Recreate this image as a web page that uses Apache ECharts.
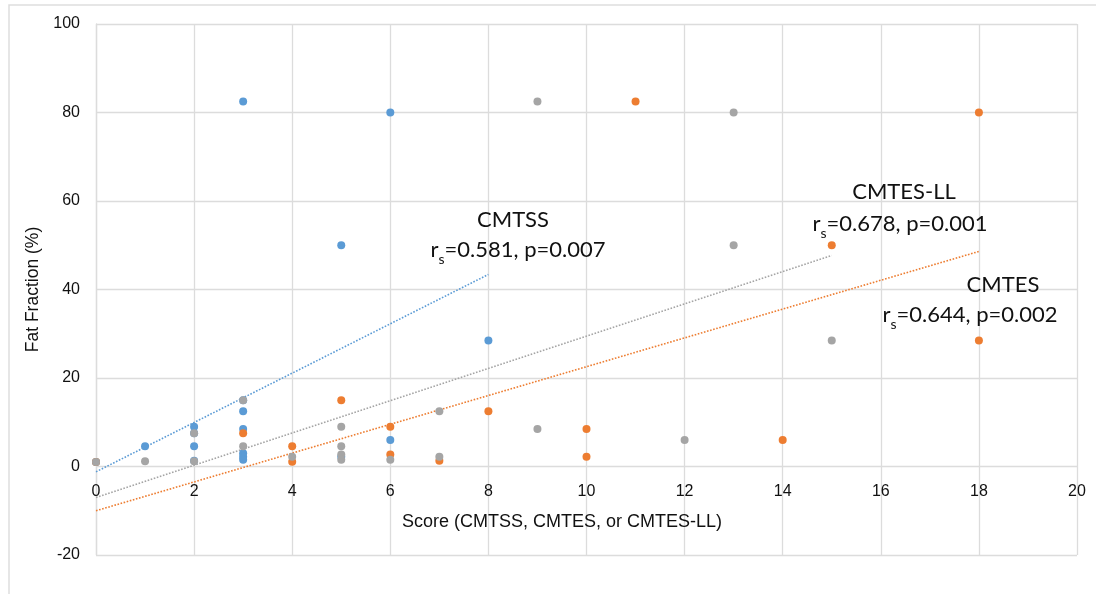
<!DOCTYPE html>
<html>
<head>
<meta charset="utf-8">
<script src="https://cdn.jsdelivr.net/npm/echarts@6/dist/echarts.min.js"></script>
<style>html,body{margin:0;padding:0;background:#fff;}#c{width:1096px;height:594px;}</style>
</head>
<body>
<div id="c"></div>
<script>
// Scores vs fat fraction (%)
const cmtssPoints = [[0,1],[1,4.6],[2,9],[2,7.5],[2,4.6],[2,1.3],[3,82.5],[3,15],[3,12.5],[3,8.5],[3,3],[3,2.2],[3,1.5],[5,50],[5,2.2],[6,80],[6,6],[8,28.5]];
const cmtesPoints = [[0,1],[3,7.5],[4,4.6],[4,1.1],[5,15],[6,9],[6,2.7],[7,1.3],[8,12.5],[10,8.5],[10,2.2],[11,82.5],[14,6],[15,50],[18,80],[18,28.5]];
const cmtesLLPoints = [[0,1],[1,1.2],[2,7.5],[2,1.2],[3,15],[3,4.6],[4,2.2],[5,9],[5,4.6],[5,2.7],[5,1.5],[6,1.5],[7,12.5],[7,2.2],[9,82.5],[9,8.5],[12,6],[13,80],[13,50],[15,28.5]];
// Linear trend line end points
const cmtssTrend = [[0,-1.2],[8,43.4]];
const cmtesTrend = [[0,-10],[18,48.6]];
const cmtesLLTrend = [[0,-7],[15,47.7]];
const xTicks = {min:0, max:20, interval:2};
const yTicks = {min:-20, max:100, interval:20};
const seriesNames = ['CMTSS','CMTES','CMTES-LL'];
const statLabels = ['0.581, p=0.007','0.644, p=0.002','0.678, p=0.001'];
const xTitle = 'Score (CMTSS, CMTES, or CMTES-LL)';
const yTitle = 'Fat Fraction (%)';

const blue = '#5B9BD5', orange = '#ED7D31', gray = '#A5A5A5';
const chart = echarts.init(document.getElementById('c'), null, {renderer:'canvas'});
const annFont = '22px Lato, "Open Sans", sans-serif';

function scatter(name, data, color, z){
  return {name, type:'scatter', data, symbolSize:8, itemStyle:{color, opacity:1}, z, emphasis:{disabled:true}};
}
function trend(name, data, color, z){
  return {name:name+' trend', type:'line', data, showSymbol:false, symbol:'none', z,
    lineStyle:{color, width:1.6, type:[1.6,1.6]}, emphasis:{disabled:true}};
}
function annot(title, stat, cx, cy, sx, sy){
  return [
    {type:'text', x:cx, y:cy, z:10, style:{text:title, font:annFont, fill:'#111', textAlign:'center', textVerticalAlign:'middle'}},
    {type:'text', x:sx, y:sy, z:10, style:{
      text:'{r|r}{s|s}{r|=' + stat + '}',
      textAlign:'center', textVerticalAlign:'middle',
      rich:{
        r:{font:annFont, fill:'#111', lineHeight:26, verticalAlign:'bottom'},
        s:{font:'14px Lato, "Open Sans", sans-serif', fill:'#111', lineHeight:26, verticalAlign:'bottom', padding:[0,0,-5,0]}
      }}}
  ];
}

const option = {
  animation:false,
  backgroundColor:'#fff',
  grid:{left:96, right:19, top:24, bottom:39, containLabel:false, outerBoundsMode:'none'},
  xAxis:{
    type:'value', min:xTicks.min, max:xTicks.max, interval:xTicks.interval,
    axisLine:{show:false, onZero:false},
    axisTick:{show:false},
    axisLabel:{margin:-71, fontFamily:'"Liberation Sans", Arial, sans-serif', fontSize:16, color:'#111'},
    splitLine:{show:true, lineStyle:{color:'#dcdcdc', width:1.3}}
  },
  yAxis:{
    type:'value', min:yTicks.min, max:yTicks.max, interval:yTicks.interval,
    name:yTitle, nameLocation:'middle', nameGap:52,
    nameTextStyle:{fontFamily:'"Liberation Sans", Arial, sans-serif', fontSize:17.5, color:'#111'},
    axisLine:{show:true, onZero:false, lineStyle:{color:'#dcdcdc', width:1.3}}, axisTick:{show:false},
    axisLabel:{margin:16, fontFamily:'"Liberation Sans", Arial, sans-serif', fontSize:16, color:'#111'},
    splitLine:{show:true, lineStyle:{color:'#dcdcdc', width:1.3}}
  },
  graphic:[
    {type:'rect', shape:{x:9, y:5, width:1200, height:700}, style:{fill:'none', stroke:'#dedede', lineWidth:1.5}, silent:true, z:-10},
    {type:'text', x:562, y:522, z:10, style:{text:xTitle, font:'18px "Liberation Sans", Arial, sans-serif', fill:'#111', textAlign:'center', textVerticalAlign:'middle'}},
    ...annot(seriesNames[0], statLabels[0], 513, 220, 518, 248),
    ...annot(seriesNames[2], statLabels[2], 904, 192, 900, 222),
    ...annot(seriesNames[1], statLabels[1], 1003, 285, 970, 313)
  ],
  series:[
    trend(seriesNames[0], cmtssTrend, blue, 3),
    trend(seriesNames[1], cmtesTrend, orange, 3),
    trend(seriesNames[2], cmtesLLTrend, gray, 3),
    scatter(seriesNames[0], cmtssPoints, blue, 4),
    scatter(seriesNames[1], cmtesPoints, orange, 5),
    scatter(seriesNames[2], cmtesLLPoints, gray, 6)
  ]
};
chart.setOption(option);
</script>
</body>
</html>
